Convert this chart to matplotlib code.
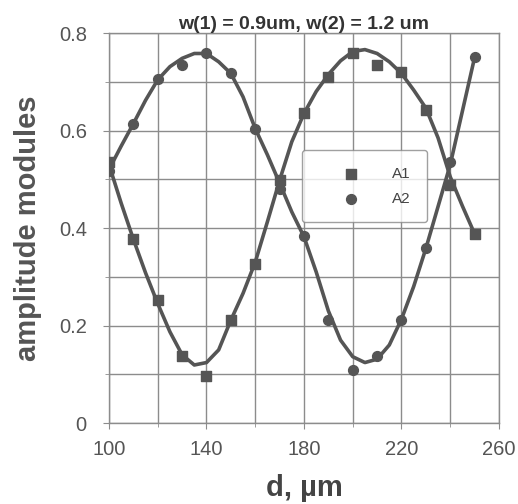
import numpy as np
import matplotlib
matplotlib.use("Agg")
import matplotlib.pyplot as plt

plt.rcParams['font.family'] = ['Liberation Sans', 'DejaVu Sans']

# measured points
d = [100, 110, 120, 130, 140, 150, 160, 170, 180, 190, 200, 210, 220, 230, 240, 250]
a1 = [0.535, 0.377, 0.252, 0.137, 0.097, 0.211, 0.327, 0.498, 0.635, 0.709, 0.758,
      0.734, 0.719, 0.643, 0.489, 0.388]
a2 = [0.516, 0.613, 0.705, 0.734, 0.759, 0.717, 0.604, 0.481, 0.383, 0.212, 0.109,
      0.137, 0.212, 0.358, 0.535, 0.750]

# fitted curves, every 5 um
d_fit = [100, 105, 110, 115, 120, 125, 130, 135, 140, 145, 150, 155, 160, 165, 170, 175,
         180, 185, 190, 195, 200, 205, 210, 215, 220, 225, 230, 235, 240, 245, 250]
a1_fit = [0.530, 0.451, 0.377, 0.308, 0.245, 0.187, 0.140, 0.119, 0.124, 0.150, 0.211,
          0.266, 0.330, 0.413, 0.498, 0.577, 0.635, 0.680, 0.715, 0.743, 0.762, 0.766,
          0.758, 0.741, 0.717, 0.683, 0.646, 0.585, 0.505, 0.445, 0.388]
a2_fit = [0.520, 0.568, 0.614, 0.662, 0.704, 0.731, 0.748, 0.758, 0.758, 0.741, 0.717,
          0.669, 0.604, 0.550, 0.492, 0.433, 0.382, 0.310, 0.230, 0.170, 0.136, 0.124,
          0.131, 0.160, 0.213, 0.280, 0.358, 0.444, 0.530, 0.640, 0.750]

col = '#555555'
grid_col = '#8c8c8c'

fig = plt.figure(figsize=(5.18, 5.04), dpi=100)
ax = fig.add_axes([0.2104, 0.1607, 0.7529, 0.7738])

ax.plot(d_fit, a1_fit, color=col, lw=2.6, zorder=3)
ax.plot(d_fit, a2_fit, color=col, lw=2.6, zorder=3)
ax.scatter(d, a1, marker='s', s=50, color=col, zorder=4, label='A1')
ax.scatter(d, a2, marker='o', s=50, color=col, zorder=4, label='A2')

ax.set_xlim(100, 260)
ax.set_ylim(0, 0.8)
ax.set_xticks([100, 140, 180, 220, 260])
ax.set_yticks([0, 0.2, 0.4, 0.6, 0.8])
ax.set_yticklabels(['0', '0.2', '0.4', '0.6', '0.8'])
ax.set_xticks(np.arange(100, 261, 20), minor=True)
ax.set_yticks(np.arange(0, 0.81, 0.1), minor=True)
ax.grid(which='both', color=grid_col, lw=1.0)
ax.set_axisbelow(True)
for s in ax.spines.values():
    s.set_color(grid_col)
    s.set_linewidth(1.0)
ax.tick_params(which='both', colors=grid_col, labelcolor='#555555', labelsize=14.5,
               length=4, direction='out')
ax.tick_params(which='minor', length=3)
ax.tick_params(axis='x', pad=8)
ax.tick_params(axis='y', pad=12)

ax.set_title('w(1) = 0.9um, w(2) = 1.2 um', fontsize=14, fontweight='bold',
             color='#333333', pad=3)
ax.set_ylabel('amplitude modules', fontsize=21, fontweight='bold', color=col, labelpad=12)
ax.set_xlabel('d, µm', fontsize=21, fontweight='bold', color='#444444', labelpad=11)

leg = ax.legend(loc='upper left', bbox_to_anchor=(0.494, 0.70), frameon=True,
                fancybox=True, fontsize=11, handletextpad=0.6, borderpad=1.1,
                borderaxespad=0, labelspacing=0.7, handlelength=4.2)
leg.get_frame().set_edgecolor('#888888')
leg.get_frame().set_linewidth(1.0)
for t in leg.get_texts():
    t.set_color('#444444')

fig.savefig('out.png', dpi=100)
